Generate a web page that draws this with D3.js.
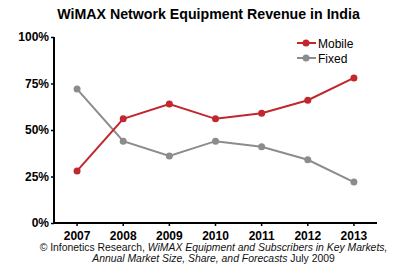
<!DOCTYPE html>
<html><head><meta charset="utf-8">
<script src="https://cdn.jsdelivr.net/npm/d3@7"></script>
<style>body{margin:0;background:#fff}svg{display:block;font-family:"Liberation Sans",Arial,sans-serif}</style>
</head><body><svg id="c" width="417" height="278"></svg>
<script>
const years = ["2007","2008","2009","2010","2011","2012","2013"];
const mobile = [28,56,64,56,59,66,78];
const fixed = [72,44,36,44,41,34,22];
const yTicks = [0,25,50,75,100];
const seriesNames = ["Mobile","Fixed"];
const seriesColors = ["#c1272d","#8c8c8c"];

const svg = d3.select("#c");
const x = d3.scaleBand().domain(years).range([54,377]);
const y = d3.scaleLinear().domain([0,100]).range([223,37]);

svg.append("text").attr("x",208.5).attr("y",19).attr("text-anchor","middle")
  .attr("font-size",14.2).attr("font-weight","bold").text("WiMAX Network Equipment Revenue in India");

const ya = svg.append("g").attr("transform","translate(54,0)")
  .call(d3.axisLeft(y).tickValues(yTicks).tickFormat(d=>d+"%").tickSize(3).tickPadding(2));
const xa = svg.append("g").attr("transform","translate(0,223)")
  .call(d3.axisBottom(x).tickSize(3).tickPadding(5));
[ya,xa].forEach(a=>{
  a.select(".domain").attr("stroke","#000").attr("stroke-width",2);
  a.selectAll(".tick line").attr("stroke","#000").attr("stroke-width",1.5);
  a.selectAll("text").attr("fill","#000").attr("font-size",12).attr("font-weight","bold")
   .attr("font-family","'Liberation Sans',Arial,sans-serif");
});
xa.select(".domain").attr("d","M54,0H377");
ya.select(".domain").attr("d","M0,"+y(100)+"V"+(y(0)+1));

const data = [mobile, fixed];
const line = d3.line().x((d,i)=>x(years[i])+x.bandwidth()/2).y(d=>y(d));
[1,0].forEach(k=>{
  svg.append("path").attr("d",line(data[k])).attr("fill","none")
    .attr("stroke",seriesColors[k]).attr("stroke-width",2);
  svg.selectAll(null).data(data[k]).enter().append("circle")
    .attr("cx",(d,i)=>x(years[i])+x.bandwidth()/2).attr("cy",d=>y(d)).attr("r",3.5)
    .attr("fill",seriesColors[k]);
});

// legend
seriesNames.forEach((n,k)=>{
  const ly = 43 + k*15;
  svg.append("line").attr("x1",297).attr("x2",316).attr("y1",ly).attr("y2",ly)
    .attr("stroke",seriesColors[k]).attr("stroke-width",2);
  svg.append("circle").attr("cx",306).attr("cy",ly).attr("r",3.5).attr("fill",seriesColors[k]);
  svg.append("text").attr("x",318).attr("y",ly+4.5).attr("font-size",12).text(n);
});

// footer
const f1 = svg.append("text").attr("x",213.5).attr("y",250.5).attr("text-anchor","middle").attr("font-size",10.4).attr("fill","#111");
f1.append("tspan").text("© Infonetics Research, ");
f1.append("tspan").attr("font-style","italic").text("WiMAX Equipment and Subscribers in Key Markets,");
const f2 = svg.append("text").attr("x",213.5).attr("y",261.5).attr("text-anchor","middle").attr("font-size",10.4).attr("fill","#111");
f2.append("tspan").attr("font-style","italic").text("Annual Market Size, Share, and Forecasts");
f2.append("tspan").text(" July 2009");
</script></body></html>
